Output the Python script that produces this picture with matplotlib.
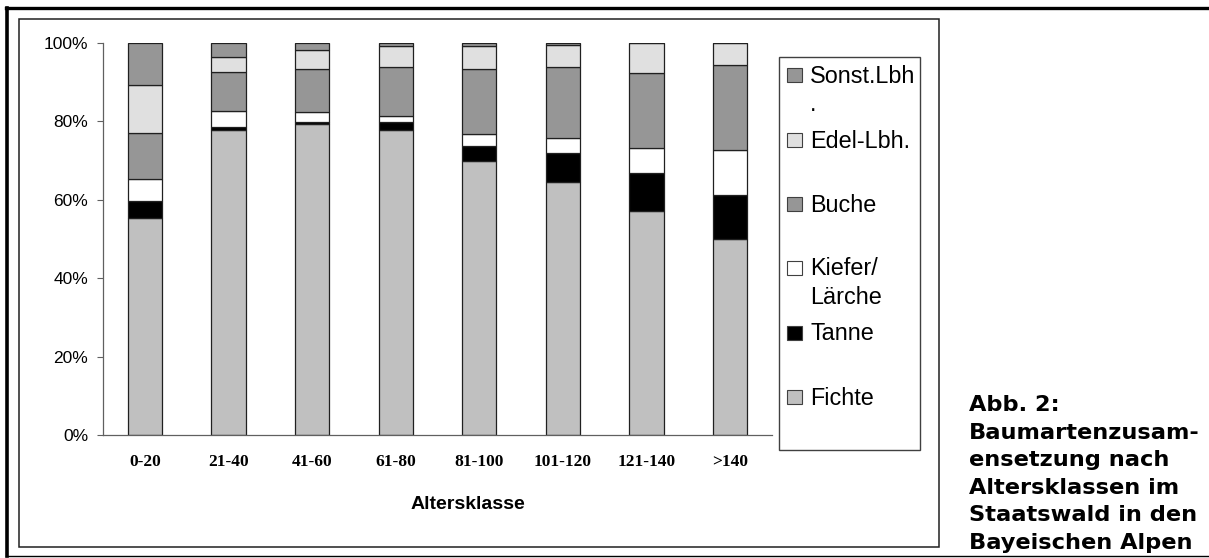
import matplotlib
matplotlib.use("Agg")
import matplotlib.pyplot as plt
from matplotlib.patches import Rectangle
from matplotlib.lines import Line2D
import numpy as np

W, H = 1209, 558

# Altersklassen and species shares (%)
klassen = ["0-20", "21-40", "41-60", "61-80", "81-100", "101-120", "121-140", ">140"]
fichte = [55.2, 77.7, 79.3, 77.7, 69.9, 64.6, 57.1, 49.9]
tanne = [4.5, 0.9, 0.4, 2.0, 3.8, 7.2, 9.8, 11.2]
kiefer = [5.5, 4.0, 2.6, 1.7, 2.9, 3.9, 6.2, 11.5]
buche = [11.7, 9.9, 11.1, 12.3, 16.7, 18.0, 19.1, 21.7]
edel = [12.2, 3.9, 4.7, 5.5, 5.9, 5.7, 7.8, 5.7]
sonst = [10.9, 3.6, 1.9, 0.8, 0.8, 0.6, 0.0, 0.0]

serien = [fichte, tanne, kiefer, buche, edel, sonst]
namen = ["Fichte", "Tanne", "Kiefer/\nLärche", "Buche", "Edel-Lbh.", "Sonst.Lbh\n."]
farben = ["#c0c0c0", "#000000", "#ffffff", "#969696", "#e0e0e0", "#969696"]

caption = ("Abb. 2:\nBaumartenzusam-\nensetzung nach\nAltersklassen im\n"
           "Staatswald in den\nBayeischen Alpen")


def fx(x):
    return x / W


def fy(y):
    return 1 - y / H


fig = plt.figure(figsize=(W / 100, H / 100), dpi=100)

# plot area
ax = fig.add_axes([fx(103.3), fy(435), fx(771.7 - 103.3), (435 - 42.7) / H])
x = np.arange(len(klassen))
bottom = np.zeros(len(klassen))
for werte, name, farbe in zip(serien, namen, farben):
    ax.bar(x, werte, width=0.41, bottom=bottom, color=farbe,
           edgecolor="#202020", linewidth=0.9, label=name)
    bottom += np.array(werte)

ax.set_xlim(-0.5, len(klassen) - 0.5)
ax.set_ylim(0, 100)
ax.set_yticks([0, 20, 40, 60, 80, 100])
ax.set_yticklabels([f"{v}%" for v in range(0, 101, 20)],
                   fontfamily="Liberation Sans", fontsize=12.5)
ax.set_xticks(x)
ax.set_xticklabels(klassen, fontfamily="Liberation Serif", fontweight="bold",
                   fontsize=12.5)
ax.tick_params(axis="y", length=4, width=0.8, color="#606060", pad=7)
ax.tick_params(axis="x", length=0, pad=14)
for s in ["top", "right"]:
    ax.spines[s].set_visible(False)
for s in ["left", "bottom"]:
    ax.spines[s].set_color("#606060")
    ax.spines[s].set_linewidth(0.9)

fig.text(fx(468), fy(509), "Altersklasse", ha="center", va="baseline",
         fontfamily="Liberation Sans", fontweight="bold", fontsize=14)

# legend box, drawn by hand so markers sit on the first label line
fig.add_artist(Rectangle((fx(779.3), fy(450)), fx(920 - 779.3), (450 - 56.7) / H,
                         transform=fig.transFigure, facecolor="white",
                         edgecolor="#404040", linewidth=1))
for i, (name, farbe) in enumerate(reversed(list(zip(namen, farben)))):
    base = 83.3 + i * 64.3
    fig.add_artist(Rectangle((fx(787.3), fy(base - 1)), fx(15), 14 / H,
                             transform=fig.transFigure, facecolor=farbe,
                             edgecolor="#404040", linewidth=0.8))
    # multi-line text is anchored on its last baseline
    last = base + name.count("\n") * 28
    fig.text(fx(810.3), fy(last), name, ha="left", va="baseline",
             fontfamily="Liberation Sans", fontsize=16.8, linespacing=1.32)

# caption
fig.text(fx(969), fy(549), caption, ha="left", va="baseline",
         fontfamily="DejaVu Sans", fontweight="bold", fontsize=16.2,
         linespacing=1.47)

# frames
inner = Rectangle((fx(18.8), fy(546.7)), fx(939.3 - 18.8), (546.7 - 19) / H,
                  transform=fig.transFigure, fill=False, edgecolor="#202020",
                  linewidth=1.1)
fig.add_artist(inner)
fig.add_artist(Line2D([fx(7.3), fx(7.3)], [fy(8), fy(556)], color="black",
                      linewidth=2.6, transform=fig.transFigure))
fig.add_artist(Line2D([fx(6), 1], [fy(8), fy(8)], color="black",
                      linewidth=2.4, transform=fig.transFigure))
fig.add_artist(Line2D([fx(6), 1], [fy(555.5), fy(555.5)], color="black",
                      linewidth=1.0, transform=fig.transFigure))

fig.savefig("out.png", dpi=100)
